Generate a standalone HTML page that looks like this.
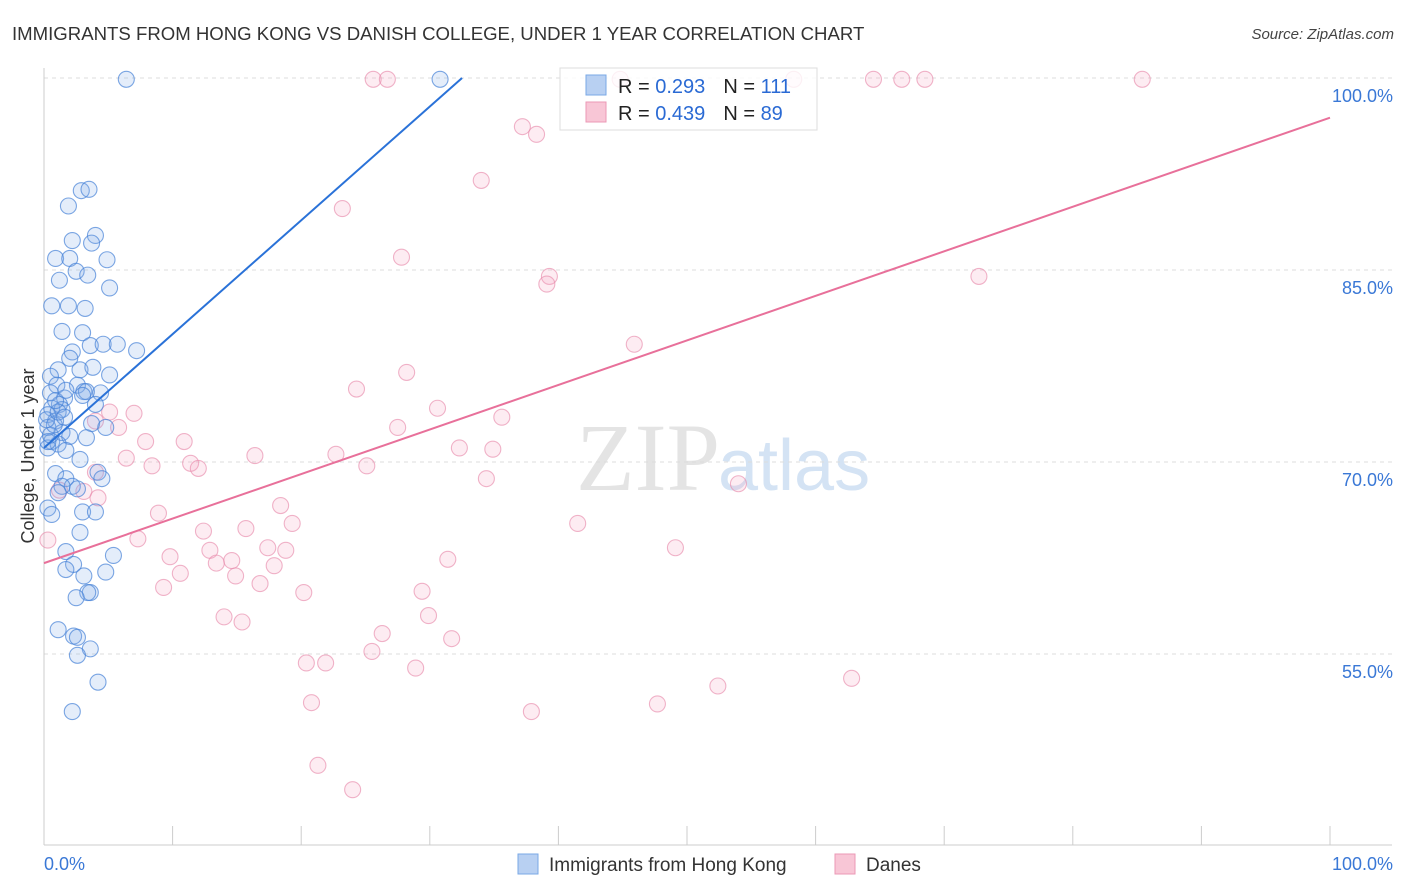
<!DOCTYPE html>
<html><head><meta charset="utf-8"><style>
body{margin:0;background:#fff;font-family:"Liberation Sans",sans-serif;}
#wrap{position:relative;width:1406px;height:892px;overflow:hidden;}
</style></head><body>
<div id="wrap">
<svg id="chart" width="1406" height="892" style="position:absolute;left:0;top:0">
<text x="12" y="40" font-size="18.6" fill="#333">IMMIGRANTS FROM HONG KONG VS DANISH COLLEGE, UNDER 1 YEAR CORRELATION CHART</text>
<text x="1394" y="39" font-size="15" fill="#444" font-style="italic" text-anchor="end">Source: ZipAtlas.com</text>
<text x="720" y="490" font-size="96" fill="#e4e4e4" text-anchor="end" font-family="Liberation Serif">ZIP</text>
<text x="718" y="490" font-size="72" fill="#d4e3f4">atlas</text>
<text transform="translate(34,456) rotate(-90)" font-size="18" fill="#333" text-anchor="middle">College, Under 1 year</text>
<g id="grid"></g><g id="axes"></g><g id="pink"></g><g id="blue"></g><g id="lines"></g>
<g>
<rect x="560" y="68" width="257" height="62" fill="#fff" fill-opacity="0.8" stroke="#ddd"/>
<rect x="586" y="75" width="20" height="20" fill="#b8d0f2" stroke="#7aa8e6"/>
<text x="618" y="93" font-size="20" fill="#222">R = <tspan fill="#2a6ad4">0.293</tspan><tspan dx="18">N = </tspan><tspan fill="#2a6ad4">111</tspan></text>
<rect x="586" y="102" width="20" height="20" fill="#f8c6d6" stroke="#eb98b6"/>
<text x="618" y="120" font-size="20" fill="#222">R = <tspan fill="#2a6ad4">0.439</tspan><tspan dx="18">N = </tspan><tspan fill="#2a6ad4">89</tspan></text>
</g>
<g>
<rect x="518" y="854" width="20" height="20" fill="#b8d0f2" stroke="#7aa8e6"/>
<text x="549" y="871" font-size="19" fill="#333">Immigrants from Hong Kong</text>
<rect x="835" y="854" width="20" height="20" fill="#f8c6d6" stroke="#eb98b6"/>
<text x="866" y="871" font-size="19" fill="#333">Danes</text>
</g>
</svg>
</div>
<script>
const blueX=[6.4,30.8,2.9,3.5,1.9,4.0,2.2,3.7,0.9,2.0,4.9,2.5,3.4,1.2,5.1,0.6,1.9,3.2,1.4,3.0,2.2,3.6,4.6,5.7,7.2,2.0,1.1,2.8,0.5,3.8,5.1,1.0,2.6,3.1,0.5,3.3,4.4,1.6,3.0,1.2,4.0,0.6,1.4,0.3,0.9,3.7,4.8,0.3,1.4,2.0,3.3,0.6,1.1,0.3,1.7,2.8,4.2,0.9,1.7,4.5,2.2,1.4,2.6,1.1,0.3,3.0,4.0,0.6,2.8,1.7,5.4,2.3,1.7,4.8,3.1,3.6,3.4,2.5,1.1,2.3,2.6,3.6,2.6,4.2,2.2,0.3,0.5,0.8,0.2,1.1,1.6,0.9,1.7];
const blueY=[99.9,99.9,91.2,91.3,90.0,87.7,87.3,87.1,85.9,85.9,85.8,84.9,84.6,84.2,83.6,82.2,82.2,82.0,80.2,80.1,78.6,79.1,79.2,79.2,78.7,78.1,77.2,77.2,76.7,77.4,76.8,76.0,76.0,75.5,75.4,75.5,75.4,75.0,75.2,74.5,74.5,74.2,74.1,73.7,73.2,73.0,72.7,72.7,72.3,72.0,71.9,71.6,71.4,71.1,70.9,70.2,69.2,69.1,68.7,68.7,68.1,68.1,67.9,67.6,66.4,66.1,66.1,65.9,64.5,63.0,62.7,62.0,61.6,61.4,61.1,59.8,59.8,59.4,56.9,56.4,56.3,55.4,54.9,52.8,50.5,71.6,72.1,72.9,73.3,73.9,73.5,74.8,75.6];
const pinkX=[25.6,26.7,44.8,58.3,64.5,66.7,68.5,85.4,37.2,38.3,34.0,23.2,27.8,39.3,39.1,72.7,45.9,24.3,28.2,30.6,35.6,5.1,7.0,4.0,5.8,27.5,7.9,10.9,32.3,34.9,22.7,16.4,6.4,8.4,11.4,12.0,25.1,34.4,54.0,4.0,3.1,1.2,4.2,18.4,8.9,12.4,15.7,19.3,41.5,7.3,9.8,12.9,17.4,18.8,49.1,31.4,13.4,14.6,17.9,10.6,14.9,16.8,9.3,29.4,20.2,14.0,15.4,29.9,26.3,31.7,20.4,21.9,25.5,28.9,52.4,62.8,20.8,37.9,47.7,21.3,24.0,0.3];
const pinkY=[99.9,99.9,99.9,99.9,99.9,99.9,99.9,99.9,96.2,95.6,92.0,89.8,86.0,84.5,83.9,84.5,79.2,75.7,77.0,74.2,73.5,73.9,73.8,73.2,72.7,72.7,71.6,71.6,71.1,71.0,70.6,70.5,70.3,69.7,69.9,69.5,69.7,68.7,68.3,69.2,67.7,67.8,67.2,66.6,66.0,64.6,64.8,65.2,65.2,64.0,62.6,63.1,63.3,63.1,63.3,62.4,62.1,62.3,61.9,61.3,61.1,60.5,60.2,59.9,59.8,57.9,57.5,58.0,56.6,56.2,54.3,54.3,55.2,53.9,52.5,53.1,51.2,50.5,51.1,46.3,44.4,63.9];
const blueTrend=[71.1,0.889];
const pinkTrend=[62.1,0.348];
const yTicks=[100,85,70,55];
const xTickLabels=["0.0%","100.0%"];
const NS="http://www.w3.org/2000/svg";
const sx=v=>44+v*12.86, sy=v=>78+(100-v)*12.8;
function mk(tag,attrs,parent){const e=document.createElementNS(NS,tag);for(const k in attrs)e.setAttribute(k,attrs[k]);document.getElementById(parent).appendChild(e);return e;}
yTicks.forEach(t=>{
 const l=mk('line',{x1:44,x2:1392,y1:sy(t),y2:sy(t),stroke:'#ddd','stroke-dasharray':'4,4'},'grid');
 
 
 const tx=mk('text',{x:1393,y:sy(t)+24,'font-size':18,fill:'#3a78d6','text-anchor':'end'},'grid');
 tx.textContent=t.toFixed(1)+'%';
 
 
});
const ax=mk('line',{x1:44,x2:44,y1:68,y2:845,stroke:'#ccc'},'axes');


const bx=mk('line',{x1:44,x2:1392,y1:845,y2:845,stroke:'#ccc'},'axes');


for(let i=0;i<=10;i++){const t=mk('line',{x1:sx(i*10),x2:sx(i*10),y1:826,y2:845,stroke:'#ccc'},'axes');
 
 }
[[0,'start',44],[100,'end',1393]].forEach((d,i)=>{const t=mk('text',{x:d[2],y:870,'font-size':18,fill:'#3a78d6','text-anchor':d[1]},'axes');t.textContent=xTickLabels[i];
 
 });
function pts(X,Y,g,fill,stroke,name){X.forEach((x,i)=>{const c=mk('circle',{cx:sx(x),cy:sy(Y[i]),r:8,fill:fill,stroke:stroke,'stroke-width':1.1},g);
 
 });}
pts(pinkX,pinkY,'pink','rgba(244,170,196,0.22)','rgba(232,140,172,0.65)','danes-point');
pts(blueX,blueY,'blue','rgba(130,172,232,0.22)','rgba(70,130,215,0.7)','hong-kong-point');
const bEnd=(100-blueTrend[0])/blueTrend[1];
const bl=mk('line',{x1:sx(0),y1:sy(blueTrend[0]),x2:sx(bEnd),y2:sy(100),stroke:'#2a72d8','stroke-width':2},'lines');


const pl=mk('line',{x1:sx(0),y1:sy(pinkTrend[0]),x2:sx(100),y2:sy(pinkTrend[0]+100*pinkTrend[1]),stroke:'#e8709a','stroke-width':2},'lines');


</script>
</body></html>
